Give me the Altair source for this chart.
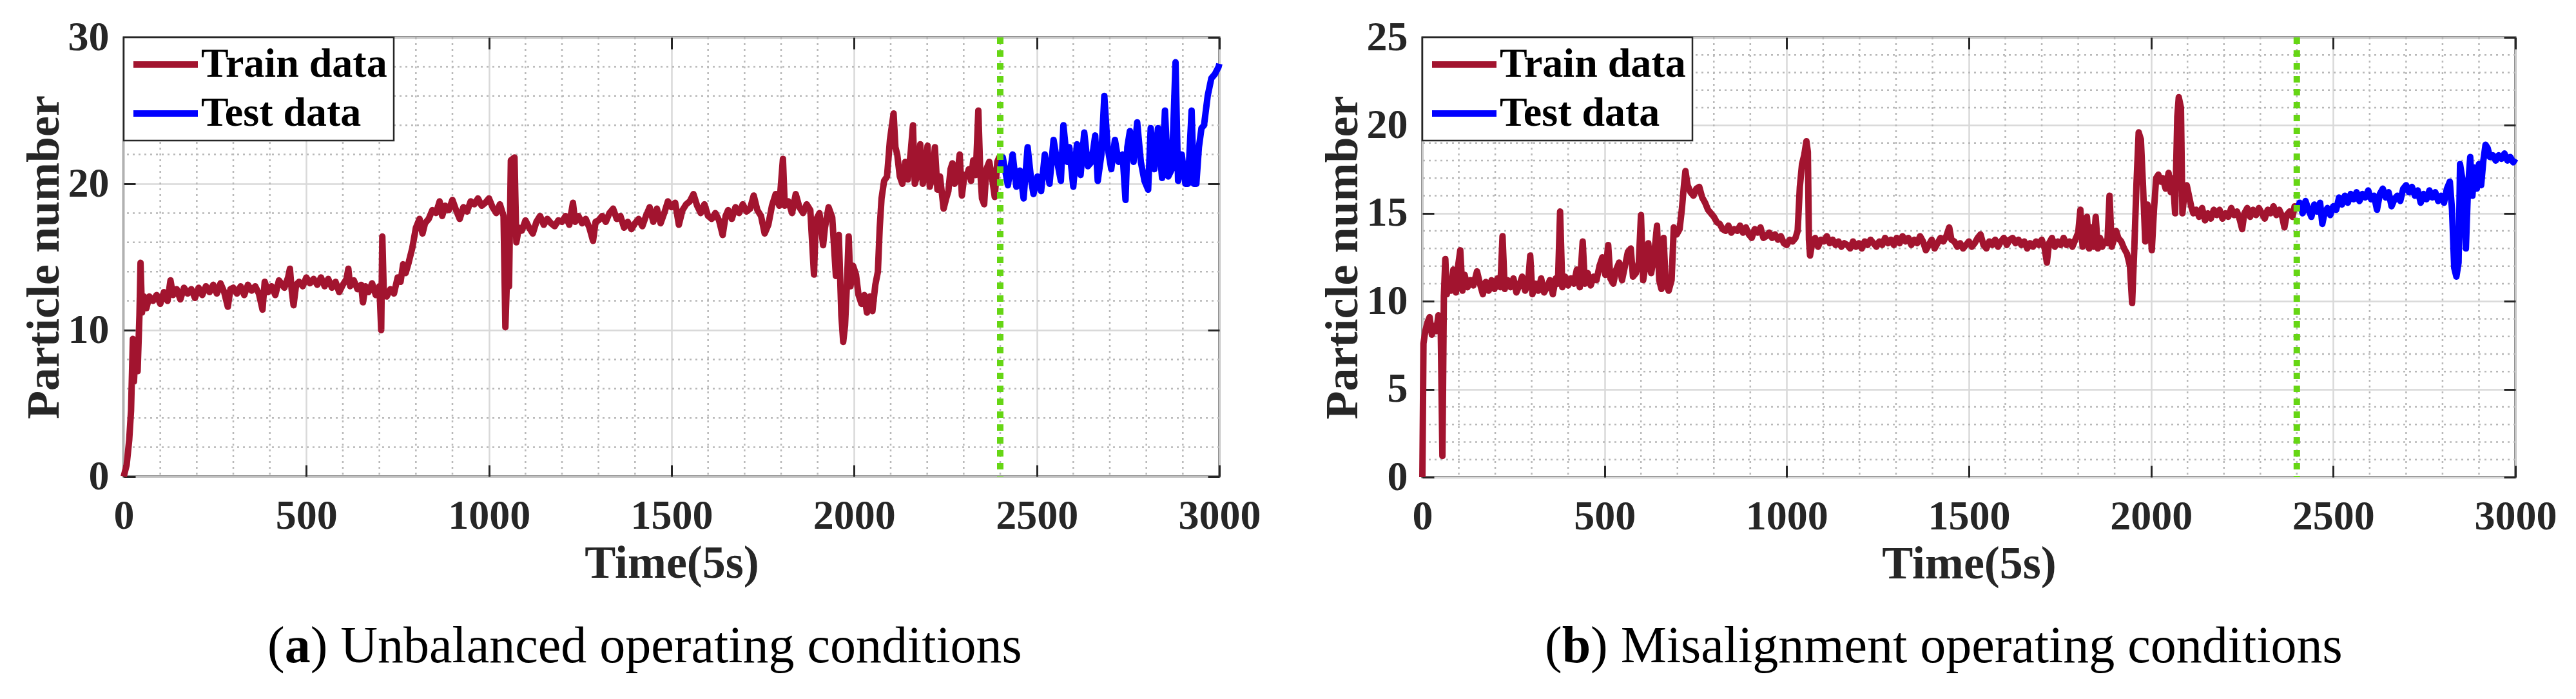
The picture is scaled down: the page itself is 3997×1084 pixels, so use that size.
import altair as alt
import pandas as pd

# ---------------- data ----------------
# Panel (a): Unbalanced operating conditions
a_train_x = [0, 8, 15, 20, 25, 28, 33, 38, 43, 46, 50, 55, 62, 70, 80, 90, 100, 110, 120, 128, 135, 145, 155, 165, 175,
             185, 195, 205, 215, 225, 235, 245, 255, 265, 275, 285, 292, 300, 310, 320, 330, 340, 350, 360, 370, 380,
             386, 395, 405, 415, 425, 440, 450, 455, 460, 465, 472, 480, 490, 500, 510, 520, 530, 540, 550, 560, 570,
             580, 590, 600, 610, 615, 620, 630, 640, 650, 655, 662, 670, 680, 690, 700, 705, 708, 712, 720, 730, 740,
             750, 758, 765, 772, 780, 790, 800, 810, 818, 825, 835, 845, 855, 865, 872, 880, 890, 900, 910, 920, 930,
             940, 950, 960, 970, 980, 990, 1000, 1010, 1020, 1030, 1040, 1045, 1050, 1055, 1060, 1070, 1075, 1082,
             1090, 1100, 1110, 1120, 1130, 1140, 1150, 1160, 1170, 1180, 1190, 1200, 1210, 1220, 1230, 1236, 1245,
             1255, 1265, 1275, 1285, 1292, 1300, 1310, 1320, 1330, 1340, 1350, 1360, 1370, 1380, 1390, 1400, 1410,
             1420, 1430, 1440, 1450, 1460, 1470, 1480, 1490, 1500, 1510, 1520, 1530, 1540, 1550, 1560, 1570, 1580,
             1590, 1600, 1610, 1620, 1630, 1640, 1648, 1655, 1665, 1675, 1685, 1695, 1705, 1715, 1725, 1735, 1745,
             1755, 1765, 1775, 1785, 1795, 1805, 1810, 1820, 1830, 1840, 1850, 1860, 1870, 1880, 1890, 1895, 1905,
             1915, 1920, 1930, 1940, 1950, 1958, 1965, 1970, 1975, 1980, 1985, 1990, 1997, 2005, 2012, 2020, 2028,
             2035, 2043, 2050, 2058, 2065, 2070, 2075, 2082, 2090, 2098, 2108, 2113, 2118, 2125, 2132, 2140, 2147,
             2155, 2161, 2166, 2172, 2181, 2188, 2195, 2201, 2207, 2215, 2221, 2228, 2235, 2245, 2252, 2258, 2264,
             2269, 2275, 2282, 2289, 2295, 2302, 2308, 2314, 2320, 2326, 2333, 2340, 2345, 2350, 2356, 2362, 2370,
             2377, 2385, 2392, 2397, 2400]
a_train_y = [0.0, 0.8, 2.5, 4.5, 9.4, 6.5, 9.0, 7.2, 11.0, 14.6, 11.2, 12.3, 11.5, 12.3, 12.0, 12.4, 11.8, 12.6, 12.0,
             13.4, 12.4, 12.8, 12.1, 12.9, 12.5, 12.8, 12.2, 12.9, 12.4, 13.0, 12.6, 13.1, 12.5, 13.2, 12.6, 11.6,
             12.8, 12.9, 12.5, 13.0, 12.4, 13.1, 12.7, 13.0, 12.5, 11.4, 13.3, 12.6, 13.0, 12.4, 13.4, 12.9, 13.6,
             14.2, 12.7, 11.7, 13.1, 13.3, 13.0, 13.6, 13.2, 13.5, 13.1, 13.6, 13.0, 13.5, 12.9, 13.3, 12.6, 13.1,
             13.5, 14.2, 13.0, 13.4, 12.8, 13.1, 11.9, 13.0, 12.6, 13.2, 12.4, 13.0, 10.0, 16.4, 12.6, 12.3, 12.8,
             12.5, 13.6, 13.3, 14.5, 13.9, 14.6, 15.6, 17.0, 17.6, 16.6, 17.3, 17.6, 18.2, 18.0, 18.8, 17.8, 18.5,
             18.2, 18.9, 18.2, 17.6, 18.4, 18.1, 18.8, 18.6, 19.0, 18.5, 18.7, 19.0, 18.4, 18.0, 18.6, 17.8, 10.2,
             14.0, 13.0, 21.6, 21.8, 16.0, 17.0, 16.8, 17.5, 17.0, 16.6, 17.4, 17.8, 17.2, 17.6, 17.3, 17.1, 17.5,
             17.4, 17.8, 17.2, 18.7, 17.4, 17.8, 17.3, 17.6, 17.0, 16.1, 17.4, 17.5, 17.8, 17.4, 18.0, 18.3, 17.6,
             17.8, 17.0, 17.4, 16.9, 17.3, 17.6, 17.1, 17.8, 18.4, 17.4, 18.3, 17.3, 18.0, 18.8, 18.4, 18.7, 17.2,
             18.2, 18.6, 18.8, 19.3, 18.5, 18.0, 18.6, 17.8, 17.6, 18.0, 17.5, 16.5, 17.8, 18.2, 17.6, 18.4, 18.0,
             18.6, 18.1, 18.3, 19.2, 18.2, 17.8, 16.6, 17.2, 18.5, 19.3, 18.5, 21.7, 18.5, 18.8, 18.0, 19.3, 18.4,
             18.0, 18.6, 18.2, 13.8, 17.5, 18.0, 15.8, 17.0, 18.4, 17.7, 13.7, 16.5, 11.0, 9.2, 10.3, 13.0, 16.4,
             13.0, 14.4, 13.8, 12.4, 11.8, 12.4, 11.2, 12.3, 11.3, 13.1, 14.0, 17.0, 19.0, 20.2, 20.5, 23.0, 24.8,
             22.5, 22.0, 20.5, 20.0, 21.5, 20.3, 22.2, 24.0, 20.0, 20.5, 22.7, 20.0, 21.0, 22.6, 19.8, 20.5, 22.5,
             19.6, 20.5, 18.3, 19.0, 19.5, 21.0, 21.4, 20.0, 20.5, 22.0, 19.2, 20.6, 20.5, 21.0, 20.2, 21.6, 20.6,
             25.0, 21.0, 19.0, 18.6, 21.0, 21.5, 20.5, 19.1, 21.5, 21.8, 21.0]
a_test_x = [2400, 2407, 2421, 2434, 2444, 2454, 2464, 2475, 2485, 2491, 2502, 2512, 2522, 2535, 2546, 2556, 2566,
            2573, 2583, 2589, 2600, 2610, 2620, 2630, 2640, 2650, 2660, 2667, 2677, 2685, 2694, 2704, 2714, 2724,
            2735, 2743, 2748, 2755, 2765, 2775, 2785, 2795, 2805, 2812, 2822, 2832, 2843, 2851, 2860, 2870, 2880,
            2887, 2897, 2907, 2914, 2924, 2930, 2937, 2944, 2951, 2958, 2968, 2978, 2988, 2998, 3000]
a_test_y = [21.0, 21.8, 19.9, 22.0, 19.8, 20.9, 19.0, 22.5, 20.2, 19.3, 20.5, 19.5, 22.0, 20.0, 23.0, 21.5, 20.2,
            24.0, 21.5, 22.5, 19.8, 22.7, 20.6, 23.5, 21.2, 21.5, 23.3, 20.2, 22.0, 26.0, 22.5, 21.0, 23.0, 21.5,
            22.0, 18.9, 22.5, 23.6, 21.5, 24.2, 21.5, 20.2, 19.6, 23.8, 21.0, 23.8, 20.4, 25.0, 20.5, 21.0, 28.3,
            20.2, 22.0, 20.0, 20.0, 25.0, 20.0, 20.0, 22.5, 23.8, 24.0, 26.0, 27.2, 27.5, 28.0, 28.2]

# Panel (b): Misalignment operating conditions
b_train_x = [0, 3, 8, 14, 20, 26, 32, 38, 44, 50, 55, 59, 63, 67, 72, 78, 85, 92, 98, 104, 110, 116, 124, 132, 140,
             150, 158, 166, 174, 182, 190, 198, 206, 214, 220, 226, 234, 242, 250, 258, 266, 274, 282, 290, 296, 302,
             310, 318, 326, 334, 342, 350, 358, 366, 372, 378, 384, 392, 400, 408, 416, 424, 432, 440, 446, 454, 462,
             470, 478, 486, 494, 502, 510, 516, 524, 532, 540, 548, 556, 564, 572, 578, 586, 594, 600, 606, 612, 620,
             628, 636, 644, 650, 656, 662, 668, 676, 684, 690, 698, 706, 712, 718, 722, 728, 736, 744, 752, 760, 768,
             776, 784, 792, 800, 808, 816, 824, 832, 840, 848, 856, 864, 872, 880, 888, 896, 904, 912, 920, 928, 936,
             944, 952, 960, 968, 976, 984, 992, 1000, 1008, 1016, 1024, 1030, 1036, 1042, 1048, 1054, 1058, 1061,
             1064, 1070, 1078, 1086, 1094, 1102, 1110, 1118, 1126, 1134, 1142, 1150, 1158, 1166, 1174, 1182, 1190,
             1198, 1206, 1214, 1222, 1230, 1238, 1246, 1254, 1262, 1270, 1278, 1286, 1294, 1302, 1310, 1318, 1326,
             1334, 1342, 1350, 1358, 1366, 1374, 1382, 1390, 1398, 1406, 1414, 1422, 1430, 1438, 1446, 1452, 1460,
             1468, 1476, 1484, 1492, 1500, 1508, 1516, 1524, 1532, 1540, 1548, 1556, 1564, 1572, 1580, 1588, 1596,
             1604, 1612, 1620, 1628, 1636, 1644, 1652, 1660, 1668, 1676, 1684, 1692, 1700, 1708, 1714, 1720, 1728,
             1736, 1744, 1752, 1760, 1768, 1776, 1784, 1792, 1800, 1806, 1812, 1818, 1824, 1830, 1836, 1842, 1848,
             1854, 1860, 1866, 1872, 1880, 1886, 1892, 1898, 1904, 1910, 1918, 1926, 1934, 1942, 1948, 1954, 1960,
             1966, 1972, 1978, 1984, 1990, 1996, 2002, 2008, 2014, 2020, 2026, 2032, 2040, 2048, 2054, 2060, 2066,
             2072, 2076, 2082, 2086, 2092, 2098, 2104, 2110, 2116, 2124, 2132, 2140, 2148, 2156, 2164, 2172, 2180,
             2188, 2196, 2204, 2212, 2220, 2228, 2236, 2244, 2250, 2256, 2264, 2272, 2280, 2288, 2296, 2304, 2312,
             2320, 2328, 2336, 2344, 2352, 2360, 2366, 2372, 2380, 2388, 2394, 2400]
b_train_y = [0.0, 7.6, 8.3, 8.8, 9.1, 8.1, 8.6, 8.3, 9.2, 9.0, 1.2, 10.3, 12.4, 10.4, 11.2, 10.6, 11.8, 10.5, 12.0,
             12.9, 10.6, 11.5, 10.8, 11.2, 10.9, 11.7, 11.0, 10.4, 11.1, 10.6, 11.2, 10.7, 11.3, 10.8, 13.7, 10.7,
             11.2, 10.8, 11.3, 10.5, 10.9, 11.4, 10.6, 11.0, 12.6, 10.4, 11.0, 10.6, 11.3, 10.5, 10.8, 11.2, 10.4,
             11.3, 11.0, 15.1, 10.8, 11.4, 10.9, 11.3, 11.0, 11.8, 10.8, 13.4, 11.0, 11.6, 10.9, 11.4, 11.2, 12.0,
             12.5, 11.5, 13.2, 11.3, 11.0, 11.8, 12.2, 11.2, 12.0, 12.8, 13.0, 11.4, 11.6, 12.2, 14.9, 11.2, 12.0,
             13.3, 11.6, 12.6, 14.3, 11.2, 10.7, 13.6, 11.0, 10.6, 11.2, 14.2, 13.8, 14.1, 15.2, 16.6, 17.4, 16.6,
             16.2, 16.0, 16.4, 16.5, 15.9, 15.6, 15.2, 15.0, 14.8, 14.5, 14.4, 14.1, 14.0, 14.3, 13.9, 14.1, 14.0,
             14.3, 13.9, 14.2, 13.8, 13.6, 14.1, 13.9, 14.2, 13.6, 13.7, 13.9, 13.6, 13.8, 13.5, 13.7, 13.3, 13.2,
             13.5, 13.4, 13.6, 14.0, 16.5, 17.8, 18.3, 19.1, 18.5, 13.5, 12.6, 13.3, 13.6, 13.1, 13.5, 13.4, 13.7,
             13.3, 13.5, 13.2, 13.4, 13.1, 13.3, 13.2, 13.0, 13.4, 13.1, 13.3, 13.0, 13.4, 13.2, 13.5, 13.3, 13.1,
             13.4, 13.2, 13.6, 13.3, 13.5, 13.2, 13.6, 13.3, 13.7, 13.4, 13.6, 13.2, 13.5, 13.3, 13.7, 13.4, 12.9,
             13.2, 13.5, 13.0, 13.3, 13.6, 13.4, 13.7, 14.2, 13.5, 13.4, 13.1, 13.3, 13.0, 13.2, 13.4, 13.1, 13.3,
             13.6, 13.8, 13.2, 13.0, 13.4, 13.2, 13.5, 13.1, 13.4, 13.6, 13.2, 13.5, 13.6, 13.3, 13.5, 13.2, 13.4,
             13.0, 13.3, 13.1, 13.4, 13.2, 13.5, 13.0, 12.2, 13.3, 13.6, 13.1, 13.4, 13.2, 13.6, 13.2, 13.4, 13.1,
             13.5, 13.9, 15.2, 13.1, 13.3, 14.8, 13.0, 14.2, 13.1, 14.8, 13.0, 13.6, 13.1, 13.4, 13.3, 16.0, 13.1,
             13.5, 14.0, 13.6, 13.4, 13.0, 12.7, 12.0, 9.9, 13.0, 16.7, 19.6, 19.2, 16.5, 13.4, 15.5, 15.0, 12.9,
             15.2, 17.0, 17.2, 16.8, 17.0, 16.4, 17.3, 16.2, 17.0, 15.0, 20.5, 21.6, 21.0, 15.0, 16.2, 16.6, 16.0,
             15.4, 15.0, 15.2, 14.8, 15.3, 14.6, 15.0, 14.7, 15.2, 14.9, 15.2, 14.7, 15.0, 14.8, 15.3, 14.9, 15.1,
             14.6, 14.1, 15.0, 15.3, 14.8, 15.2, 14.9, 15.3, 15.0, 14.7, 15.2, 15.0, 15.4, 14.9, 15.2, 14.8, 14.2,
             14.9, 15.1, 14.8, 15.4, 15.2]
b_test_x = [2400, 2408, 2416, 2424, 2432, 2440, 2448, 2456, 2464, 2470, 2476, 2484, 2492, 2500, 2508, 2516, 2524,
            2532, 2540, 2548, 2556, 2564, 2572, 2580, 2588, 2596, 2604, 2612, 2620, 2628, 2636, 2644, 2652, 2660,
            2668, 2676, 2684, 2692, 2700, 2708, 2716, 2724, 2732, 2740, 2748, 2756, 2764, 2772, 2780, 2788, 2796,
            2804, 2812, 2820, 2826, 2832, 2838, 2844, 2848, 2854, 2860, 2864, 2870, 2876, 2882, 2888, 2894, 2900,
            2906, 2912, 2918, 2924, 2930, 2938, 2946, 2954, 2962, 2970, 2978, 2986, 2994, 3000]
b_test_y = [15.2, 15.6, 15.0, 15.7, 15.2, 14.8, 15.5, 15.1, 15.6, 14.4, 15.0, 15.3, 14.9, 15.4, 15.2, 15.9, 15.5,
            16.0, 15.6, 16.1, 15.8, 16.2, 15.7, 16.1, 15.9, 16.3, 15.8, 16.0, 15.2, 16.1, 16.4, 15.9, 16.2, 15.4,
            15.8, 16.0, 15.7, 16.4, 16.6, 16.2, 16.5, 16.0, 16.3, 15.6, 16.1, 15.8, 16.3, 15.9, 16.2, 15.7, 16.0,
            15.6, 16.4, 16.8, 15.2, 11.9, 11.4, 12.2, 17.8, 17.0, 15.0, 13.0, 16.5, 18.2, 16.0, 17.6, 16.4, 17.8,
            16.6, 18.0, 18.9, 18.7, 18.2, 18.3, 18.0, 18.3, 18.1, 18.4, 18.0, 18.2, 17.9, 18.1]

series_names = ["Train data", "Test data"]
series_colors = ["#A2142F", "#0000FF"]
split_at = [2400]
x_major = [0, 500, 1000, 1500, 2000, 2500, 3000]
x_minor = [v for v in range(100, 3000, 100) if v % 500 != 0]
a_y_major = [0, 10, 20, 30]
a_y_minor = [v for v in range(2, 30, 2) if v % 10 != 0]
b_y_major = [0, 5, 10, 15, 20, 25]
b_y_minor = [v for v in range(1, 25) if v % 5 != 0]
x_title = "Time(5s)"
y_title = "Particle number"
cap_a = ["(", "a", ") Unbalanced operating conditions"]
cap_b = ["(", "b", ") Misalignment operating conditions"]

FONT = "Liberation Serif"
AX = "#262626"
CAP_FS = 80


def tick_axis(orient, offset, values):
    return alt.Axis(orient=orient, offset=offset, values=values, labels=False, grid=False,
                    domain=False, ticks=True, tickSize=18, tickWidth=3, tickColor=AX, title=None)


def panel(train_x, train_y, test_x, test_y, ymax, y_major, y_minor, W, H, cap, cap_x0, letter_w):
    xs = alt.Scale(domain=[0, 3000], nice=False, zero=False)
    ys = alt.Scale(domain=[0, ymax], nice=False, zero=False)
    cs = alt.Scale(domain=series_names, range=series_colors)
    legend = alt.Legend(orient="none", legendX=0, legendY=0, title=None, symbolType="stroke",
                        symbolSize=10000, symbolStrokeWidth=10, clipHeight=64, padding=10,
                        rowPadding=12, symbolOffset=0, labelOffset=0, labelFont=FONT,
                        labelFontSize=64, labelFontWeight="bold", labelColor="black", labelLimit=600,
                        strokeColor=AX, fillColor="white", cornerRadius=0)

    df_train = pd.DataFrame({"x": train_x, "y": train_y, "s": series_names[0]})
    df_test = pd.DataFrame({"x": test_x, "y": test_y, "s": series_names[1]})

    minor_x = alt.Chart(pd.DataFrame({"v": x_minor})).mark_rule(
        color="#b8b8b8", strokeWidth=2.5, strokeDash=[3, 6]
    ).encode(x=alt.X("v:Q", scale=xs, axis=tick_axis("top", -H, x_major)))

    minor_y = alt.Chart(pd.DataFrame({"v": y_minor})).mark_rule(
        color="#b8b8b8", strokeWidth=2.5, strokeDash=[3, 6]
    ).encode(y=alt.Y("v:Q", scale=ys, axis=tick_axis("right", -W, y_major)))

    x_axis = alt.Axis(orient="bottom", values=x_major, format="d", labelFont=FONT, labelFontSize=64,
                      labelFontWeight="bold", labelColor=AX, labelPadding=29, labelFlush=False,
                      labelOverlap=False, ticks=False, tickSize=0, domain=False, grid=True,
                      gridColor="#d9d9d9", gridWidth=2.5, title=x_title, titleFont=FONT,
                      titleFontSize=72, titleFontWeight="bold", titleColor=AX, titlePadding=6)
    y_axis = alt.Axis(orient="left", values=y_major, format="d", labelFont=FONT, labelFontSize=64,
                      labelFontWeight="bold", labelColor=AX, labelPadding=23, labelFlush=False,
                      labelOverlap=False, ticks=False, tickSize=0, domain=False, grid=True,
                      gridColor="#d9d9d9", gridWidth=2.5, title=y_title, titleFont=FONT,
                      titleFontSize=72, titleFontWeight="bold", titleColor=AX, titlePadding=0)

    train = alt.Chart(df_train).mark_line(strokeWidth=10, strokeJoin="round").encode(
        x=alt.X("x:Q", scale=xs, axis=x_axis),
        y=alt.Y("y:Q", scale=ys, axis=y_axis),
        color=alt.Color("s:N", scale=cs, legend=legend),
    )
    test = alt.Chart(df_test).mark_line(strokeWidth=10, strokeJoin="round").encode(
        x=alt.X("x:Q", scale=xs, axis=tick_axis("bottom", -H, x_major)),
        y=alt.Y("y:Q", scale=ys, axis=tick_axis("left", -W, y_major)),
        color=alt.Color("s:N", scale=cs, legend=legend),
    )
    split = alt.Chart(pd.DataFrame({"x": split_at})).mark_rule(
        color="#66D614", strokeWidth=10, strokeDash=[10, 10]
    ).encode(x=alt.X("x:Q", scale=xs, axis=None))

    cap_y = 1025 - 56
    caps = []
    offsets = [0, 0.333 * CAP_FS, 0.333 * CAP_FS + letter_w * CAP_FS]
    weights = ["normal", "bold", "normal"]
    for txt, off, wt in zip(cap, offsets, weights):
        caps.append(
            alt.Chart(pd.DataFrame({"t": [txt]})).mark_text(
                font=FONT, fontSize=CAP_FS, fontWeight=wt, color="black", align="left",
                baseline="alphabetic"
            ).encode(x=alt.value(cap_x0 + off), y=alt.value(cap_y), text="t:N")
        )

    return alt.layer(minor_x, minor_y, train, test, split, *caps).resolve_axis(
        x="independent", y="independent"
    ).properties(width=W, height=H)


left = panel(a_train_x, a_train_y, a_test_x, a_test_y, 30, a_y_major, a_y_minor, 1700, 681, cap_a, 223, 0.5)
right = panel(b_train_x, b_train_y, b_test_x, b_test_y, 25, b_y_major, b_y_minor, 1696, 682, cap_b, 190, 0.556)

chart = alt.hconcat(left, right, spacing=87).resolve_scale(color="independent").properties(
    padding={"left": 22, "top": 16, "right": 5, "bottom": 5}, background="white"
).configure_view(stroke=AX, strokeWidth=3).configure_legend(strokeWidth=2.5)

chart.save("out.html", embed_options={"renderer": "svg", "actions": False})
